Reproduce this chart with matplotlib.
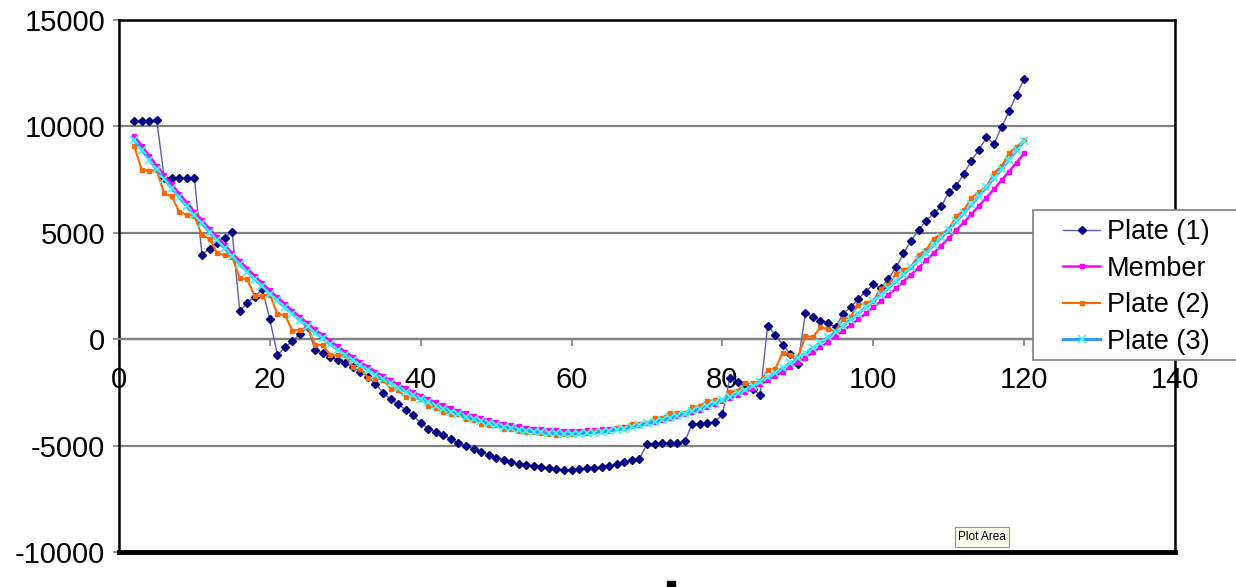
import matplotlib
matplotlib.use('Agg')
import matplotlib.pyplot as plt
from matplotlib.patches import Rectangle

x = list(range(2, 121))

plate1 = [10250, 10250, 10270, 10300,
          7580, 7580, 7580, 7580, 7580,
          3970, 4260, 4540, 4770, 5030,
          1340, 1700, 1990, 2360, 930,
          -730, -385, -70, 240, 550,
          -510, -660, -815, -970, -1115,
          -1300, -1520, -1780, -2100, -2520,
          -2810, -3045, -3320, -3580, -3920,
          -4200, -4380, -4520, -4690, -4870,
          -5020, -5160, -5320, -5430, -5560,
          -5680, -5790, -5870, -5910, -5945,
          -5990, -6055, -6100, -6150, -6150,
          -6100, -6060, -6050, -5990, -5945,
          -5870, -5780, -5700, -5620, -4925,
          -4910, -4900, -4900, -4890, -4800,
          -3990, -3980, -3950, -3900, -3530,
          -1800, -2030, -2200, -2340, -2610,
          635, 210, -260, -700, -1180,
          1220, 1060, 870, 745, 560,
          1200, 1500, 1900, 2240, 2580,
          2400, 2830, 3375, 4030, 4630,
          5130, 5570, 5910, 6240, 6900,
          7215, 7765, 8390, 8890, 9485,
          9175, 9955, 10710, 11490, 12230]

member = [9560, 9090, 8620, 8160,
          7710, 7270, 6840, 6420, 6000,
          5590, 5190, 4800, 4420, 4040,
          3680, 3320, 2970, 2630, 2290,
          1970, 1650, 1340, 1040, 750,
          460, 190, -80, -340, -590,
          -840, -1070, -1300, -1520, -1730,
          -1930, -2120, -2310, -2480, -2650,
          -2810, -2970, -3110, -3250, -3370,
          -3490, -3600, -3710, -3800, -3890,
          -3970, -4040, -4100, -4150, -4200,
          -4230, -4260, -4280, -4300, -4300,
          -4300, -4290, -4270, -4240, -4210,
          -4180, -4140, -4090, -4030, -3960,
          -3890, -3810, -3720, -3620, -3530,
          -3420, -3310, -3190, -3060, -2920,
          -2780, -2630, -2470, -2300, -2120,
          -1930, -1740, -1530, -1310, -1090,
          -860, -620, -380, -130, 130,
          390, 660, 930, 1210, 1490,
          1790, 2090, 2390, 2710, 3030,
          3360, 3700, 4040, 4390, 4750,
          5120, 5490, 5870, 6260, 6650,
          7050, 7460, 7880, 8300, 8730]

plate2 = [9100, 7960, 7920, 7930,
          6850, 6710, 5960, 5855, 5785,
          4880, 4725, 4050, 3940, 3860,
          2890, 2810, 2020, 2040, 2100,
          1180, 1140, 390, 450, 560,
          -250, -275, -730, -765, -765,
          -1310, -1400, -1800, -1860, -1900,
          -2320, -2405, -2710, -2770, -2810,
          -3120, -3210, -3440, -3500, -3530,
          -3760, -3820, -3990, -4020, -4045,
          -4200, -4235, -4330, -4345, -4350,
          -4430, -4435, -4480, -4475, -4450,
          -4408, -4402, -4330, -4317, -4307,
          -4180, -4155, -3980, -3967, -3952,
          -3725, -3710, -3455, -3462, -3487,
          -3185, -3157, -2890, -2867, -2847,
          -2470, -2415, -2080, -2035, -1985,
          -1470, -1400, -625, -720, -855,
          145, 110, 555, 490, 390,
          930, 1065, 1600, 1715, 1810,
          2380, 2570, 3070, 3240, 3400,
          3960, 4200, 4720, 4945, 5165,
          5780, 6060, 6630, 6905, 7165,
          7810, 8130, 8740, 9045, 9345]

plate3 = [9380, 8910, 8440, 7980,
          7530, 7090, 6660, 6240, 5820,
          5440, 5040, 4650, 4270, 3890,
          3530, 3170, 2820, 2480, 2140,
          1820, 1500, 1190, 890, 600,
          310, 40, -230, -490, -740,
          -990, -1220, -1450, -1670, -1880,
          -2080, -2270, -2460, -2630, -2800,
          -2960, -3120, -3260, -3400, -3520,
          -3640, -3750, -3860, -3950, -4040,
          -4120, -4190, -4250, -4300, -4350,
          -4380, -4410, -4430, -4450, -4450,
          -4440, -4420, -4390, -4350, -4310,
          -4260, -4200, -4130, -4050, -3960,
          -3885, -3800, -3705, -3600, -3500,
          -3385, -3270, -3140, -3005, -2860,
          -2710, -2550, -2380, -2200, -2000,
          -1790, -1580, -1355, -1120, -890,
          -655, -410, -165, 90, 355,
          630, 915, 1200, 1495, 1790,
          2100, 2410, 2720, 3050, 3380,
          3720, 4070, 4420, 4780, 5150,
          5540, 5930, 6330, 6740, 7150,
          7570, 8000, 8440, 8880, 9330]

xticks = [0, 20, 40, 60, 80, 100, 120, 140]
yticks = [-10000, -5000, 0, 5000, 10000, 15000]
labels = ['Plate (1)', 'Member', 'Plate (2)', 'Plate (3)']

plt.rcParams['font.family'] = ['Liberation Sans', 'DejaVu Sans']
plt.rcParams['axes.unicode_minus'] = False

W, H = 1236, 587
fig = plt.figure(figsize=(W / 100, H / 100), dpi=100)
ax = fig.add_axes([119 / W, 35 / H, 1056 / W, 532 / H])
ax.set_xlim(0, 140)
ax.set_ylim(-10000, 15000)
ax.set_xticks(xticks)
ax.set_yticks(yticks)

ax.yaxis.grid(True, color='#808080', lw=1.6)
ax.set_axisbelow(True)

for s in ['left', 'top', 'right']:
    ax.spines[s].set_color('black')
    ax.spines[s].set_linewidth(1.8)
ax.spines['bottom'].set_position(('data', 0))
ax.spines['bottom'].set_color('#808080')
ax.spines['bottom'].set_linewidth(1.6)
ax.axhline(-10000, color='black', lw=3.5, clip_on=False, zorder=5)

ax.tick_params(axis='x', direction='out', length=5, width=1.2, color='#808080',
               pad=14, labelsize=21, labelcolor='black')
ax.tick_params(axis='y', direction='out', length=4, width=1.2, color='#808080',
               pad=6, labelsize=21, labelcolor='black')

ax.plot(x, plate1, color='#5c5cb0', lw=1.0, marker='D', ms=4.2,
        mfc='#000080', mec='#000080', label=labels[0], zorder=3)
ax.plot(x, member, color='#FF00FF', lw=1.8, marker='s', ms=2.8,
        mfc='#FF00FF', mec='#FF00FF', label=labels[1], zorder=3)
ax.plot(x, plate2, color='#FF6600', lw=1.5, marker='s', ms=3.2,
        mfc='#FF6600', mec='#FF6600', label=labels[2], zorder=3)
ax.plot(x, plate3, color='#3399FF', lw=2.2, marker='x', ms=6, mew=1.2,
        mec='#33FFFF', label=labels[3], zorder=3)

# legend frame (extends past the right edge of the picture)
ax.add_patch(Rectangle((1033 / W, 1 - 360 / H), 220 / W, 150 / H,
                       transform=fig.transFigure, fc='white', ec='#808080',
                       lw=1.2, zorder=8, clip_on=False))
leg = ax.legend(loc='upper left', bbox_to_anchor=(1063 / W, 1 - 219 / H),
                bbox_transform=fig.transFigure, fontsize=19.5, frameon=False,
                handlelength=1.37, handletextpad=0.26, labelspacing=0.39,
                borderpad=0, borderaxespad=0)
leg.set_zorder(10)

fig.text(982 / W, 1 - 537 / H, 'Plot Area', fontsize=8.5, ha='center', va='center',
         bbox=dict(boxstyle='square,pad=0.3', fc='#FFFFF0', ec='#909090', lw=0.8))
fig.patches.append(Rectangle((667 / W, 0), 8 / W, 6 / H, transform=fig.transFigure,
                             color='black'))

fig.savefig('out.png', dpi=100)
